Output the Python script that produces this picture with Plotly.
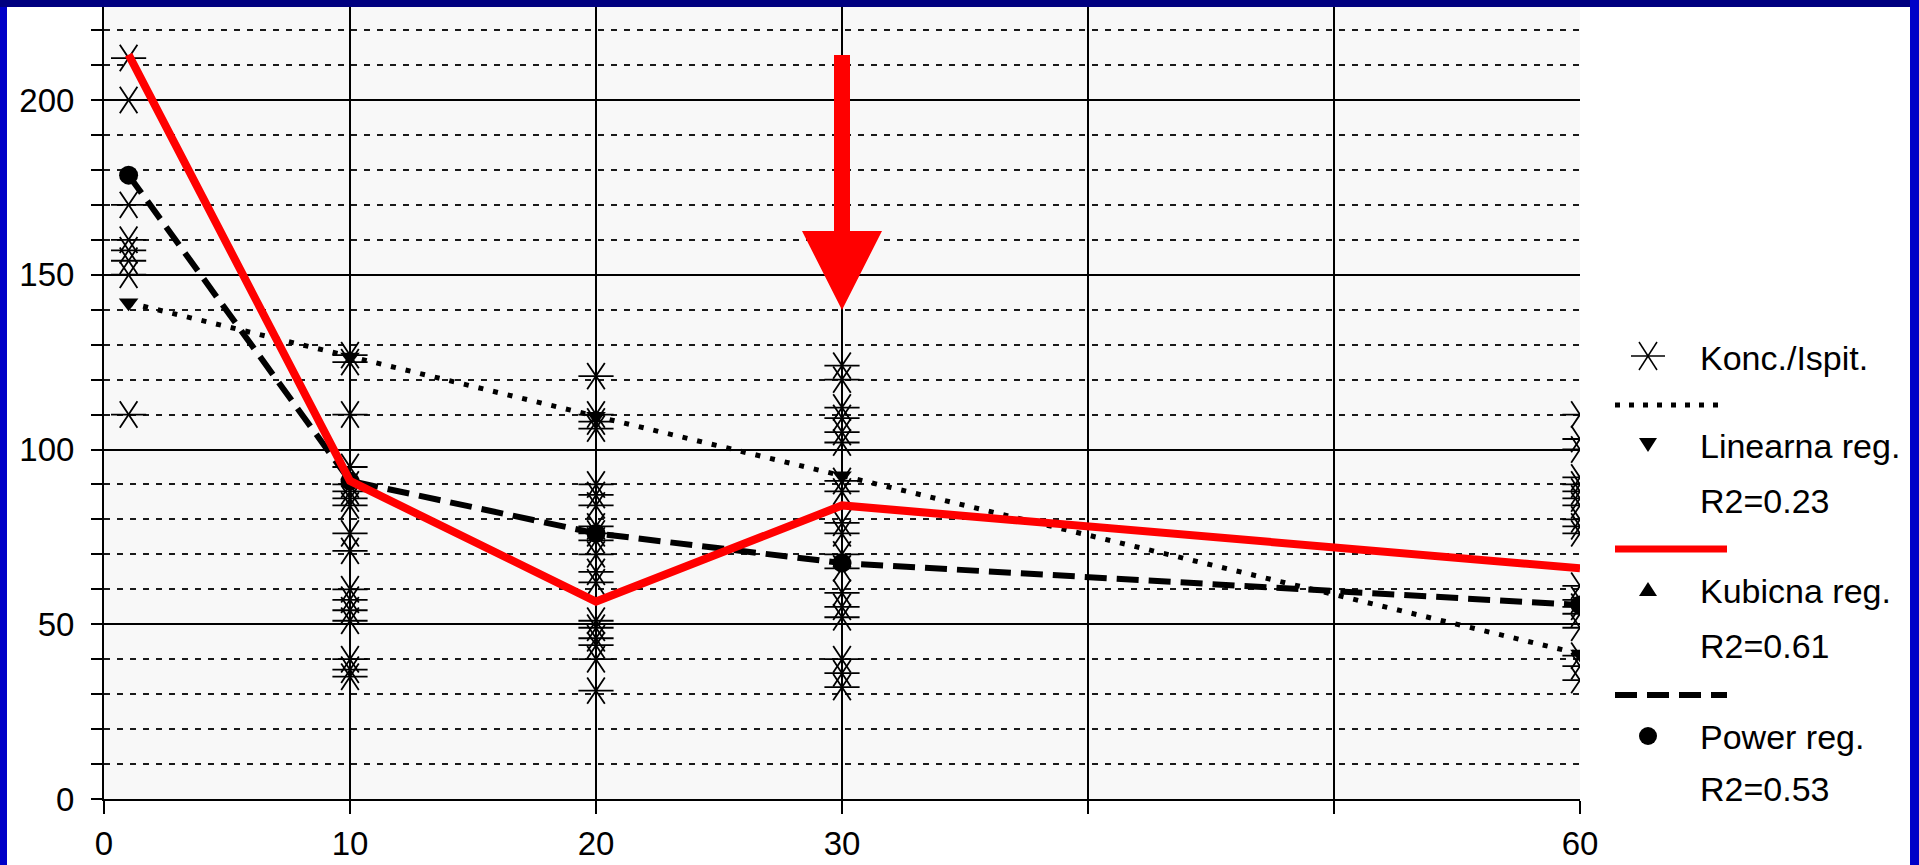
import plotly.graph_objects as go

# ---------------- data ----------------
time_points = [1, 10, 20, 30, 60]
conc_t1 = [212, 200, 170, 160, 157, 154, 150, 110]
conc_t10 = [127, 125, 110, 95, 90, 88, 86, 84, 76, 71, 60, 57, 54, 51, 40, 37, 35]
conc_t20 = [121, 110, 108, 106, 90, 87, 84, 78, 76, 74, 70, 65, 62, 51, 49, 46, 44, 40, 31]
conc_t30 = [124, 120, 112, 109, 105, 102, 91, 88, 79, 76, 70, 66, 59, 55, 52, 40, 36, 32]
conc_t60 = [110, 103, 100, 92, 90, 88, 86, 84, 80, 78, 76, 61, 57, 55, 53, 49, 41, 38, 34]

lin_reg = [142, 126.5, 109.5, 92.5, 41.5]
cub_reg = [213, 91, 56.5, 84, 66]
pow_reg = [178.5, 91, 76, 67.5, 55.5]

x_ticks = [0, 10, 20, 30, 40, 50, 60]
x_ticktext = ["0", "10", "20", "30", "", "", "60"]
y_ticks = [0, 50, 100, 150, 200]
y_ticktext = ["0", "50", "100", "150", "200"]

legend_names = ["Konc./Ispit.", "Linearna reg.", "R2=0.23", "Kubicna reg.", "R2=0.61",
                "Power reg.", "R2=0.53"]

# ---------------- geometry ----------------
W, H = 1919, 865
PL, PR, PT, PB = 104, 1580, 7, 799          # plot area in pixels
X_MAX = 60
Y_MAX = (PB - PT) / 3.495

def pxx(px):
    return (px - PL) / (PR - PL)

def pxy(py):
    return (PB - py) / (PB - PT)

def dx(px):
    return px / (PR - PL) * X_MAX

def dy(py):
    return (PB - py) / (PB - PT) * Y_MAX

FONT = "Liberation Sans, Arial, sans-serif"

groups = [conc_t1, conc_t10, conc_t20, conc_t30, conc_t60]
sx, sy = [], []
for t, vals in zip(time_points, groups):
    sx += [t] * len(vals)
    sy += vals

fig = go.Figure()

for sym in ["y-up-open", "y-down-open"]:
    fig.add_trace(go.Scatter(
        x=sx, y=sy, mode="markers", showlegend=False, hoverinfo="skip",
        marker=dict(symbol=sym, size=22, angle=90, color="black",
                    line=dict(width=1.8, color="black"))))

fig.add_trace(go.Scatter(
    x=time_points, y=lin_reg, mode="lines+markers", showlegend=False,
    line=dict(color="black", width=5, dash="5px,10px"),
    marker=dict(symbol="triangle-down", size=17, color="black")))

fig.add_trace(go.Scatter(
    x=time_points, y=pow_reg, mode="lines+markers", showlegend=False,
    line=dict(color="black", width=6, dash="22px,10px"),
    marker=dict(symbol="circle", size=19, color="black")))

fig.add_trace(go.Scatter(
    x=time_points, y=cub_reg, mode="lines", showlegend=False,
    line=dict(color="#ff0000", width=8)))

shapes = []
# blue frame of the slide
shapes.append(dict(type="rect", xref="paper", yref="paper", x0=pxx(0), x1=pxx(7),
                   y0=pxy(H), y1=pxy(0), fillcolor="#0000c8", line=dict(width=0), layer="above"))
shapes.append(dict(type="rect", xref="paper", yref="paper", x0=pxx(0), x1=pxx(W),
                   y0=pxy(7), y1=pxy(0), fillcolor="#000080", line=dict(width=0), layer="above"))
shapes.append(dict(type="rect", xref="paper", yref="paper", x0=pxx(1910), x1=pxx(W),
                   y0=pxy(H), y1=pxy(0), fillcolor="#0000c8", line=dict(width=0), layer="above"))

# red arrow at x = 30
ax = 30
sw, hw = dx(8), dx(40)
y_top, y_base, y_tip = dy(55), dy(231), dy(310)
arrow_path = (f"M {ax-sw},{y_top} L {ax+sw},{y_top} L {ax+sw},{y_base} L {ax+hw},{y_base} "
              f"L {ax},{y_tip} L {ax-hw},{y_base} L {ax-sw},{y_base} Z")
shapes.append(dict(type="path", xref="x", yref="y", path=arrow_path,
                   fillcolor="#ff0000", line=dict(width=0), layer="above"))

# ---- custom legend ----
def pline(x0, y0, x1, y1, color="black", width=1.5, dash="solid"):
    return dict(type="line", xref="paper", yref="paper", x0=pxx(x0), y0=pxy(y0),
                x1=pxx(x1), y1=pxy(y1), line=dict(color=color, width=width, dash=dash))

mx = 1648
# asterisk
ay = 356
shapes.append(pline(mx - 17, ay, mx + 17, ay))
shapes.append(pline(mx - 9, ay - 14, mx + 9, ay + 14))
shapes.append(pline(mx + 9, ay - 14, mx - 9, ay + 14))
# line samples
shapes.append(pline(1615, 405, 1727, 405, width=5, dash="5px,9px"))
shapes.append(pline(1615, 549, 1727, 549, color="#ff0000", width=7))
shapes.append(pline(1615, 695, 1727, 695, width=6, dash="22px,10px"))

def ppath(points):
    s = "M " + " L ".join(f"{pxx(a)},{pxy(b)}" for a, b in points) + " Z"
    return dict(type="path", xref="paper", yref="paper", path=s,
                fillcolor="black", line=dict(width=0))

shapes.append(ppath([(mx - 9, 438), (mx + 9, 438), (mx, 452)]))   # triangle down
shapes.append(ppath([(mx - 9, 596), (mx + 9, 596), (mx, 582)]))   # triangle up
shapes.append(dict(type="circle", xref="paper", yref="paper",
                   x0=pxx(mx - 9), x1=pxx(mx + 9), y0=pxy(745), y1=pxy(727),
                   fillcolor="black", line=dict(width=0)))

text_y = [358, 446, 501, 591, 646, 737, 789]
annotations = []
for name, ty in zip(legend_names, text_y):
    annotations.append(dict(xref="paper", yref="paper", x=pxx(1698), y=pxy(ty),
                            xanchor="left", yanchor="middle", text=name, showarrow=False,
                            font=dict(family=FONT, size=34, color="black")))

fig.update_layout(
    width=W, height=H,
    margin=dict(l=PL, r=W - PR, t=PT, b=H - PB, pad=0),
    paper_bgcolor="white", plot_bgcolor="#f8f8f8",
    showlegend=False,
    shapes=shapes, annotations=annotations,
    font=dict(family=FONT, size=33, color="black"),
)

fig.update_xaxes(
    range=[0, X_MAX], tickmode="array", tickvals=x_ticks, ticktext=x_ticktext,
    showgrid=True, gridcolor="black", gridwidth=1.5,
    ticks="outside", ticklen=13, tickwidth=1.5, tickcolor="black",
    showline=True, linecolor="black", linewidth=2,
    zeroline=False, automargin=False, ticklabelstandoff=1,
    tickfont=dict(family=FONT, size=33, color="black"),
)

fig.update_yaxes(
    range=[0, Y_MAX], tickmode="array", tickvals=y_ticks, ticktext=y_ticktext,
    showgrid=True, gridcolor="black", gridwidth=2,
    ticks="outside", ticklen=11, tickwidth=1.5, tickcolor="black",
    showline=True, linecolor="black", linewidth=2,
    zeroline=False, automargin=False, ticklabelstandoff=10,
    tickfont=dict(family=FONT, size=33, color="black"),
    minor=dict(dtick=10, tick0=0, showgrid=True, gridcolor="#1a1a1a", gridwidth=2,
               griddash="6px,7px", ticks="outside", ticklen=11, tickwidth=1.5,
               tickcolor="black"),
)

fig.write_html("out.html", config={"displayModeBar": False},
               post_script="document.body.style.margin='0px';")
